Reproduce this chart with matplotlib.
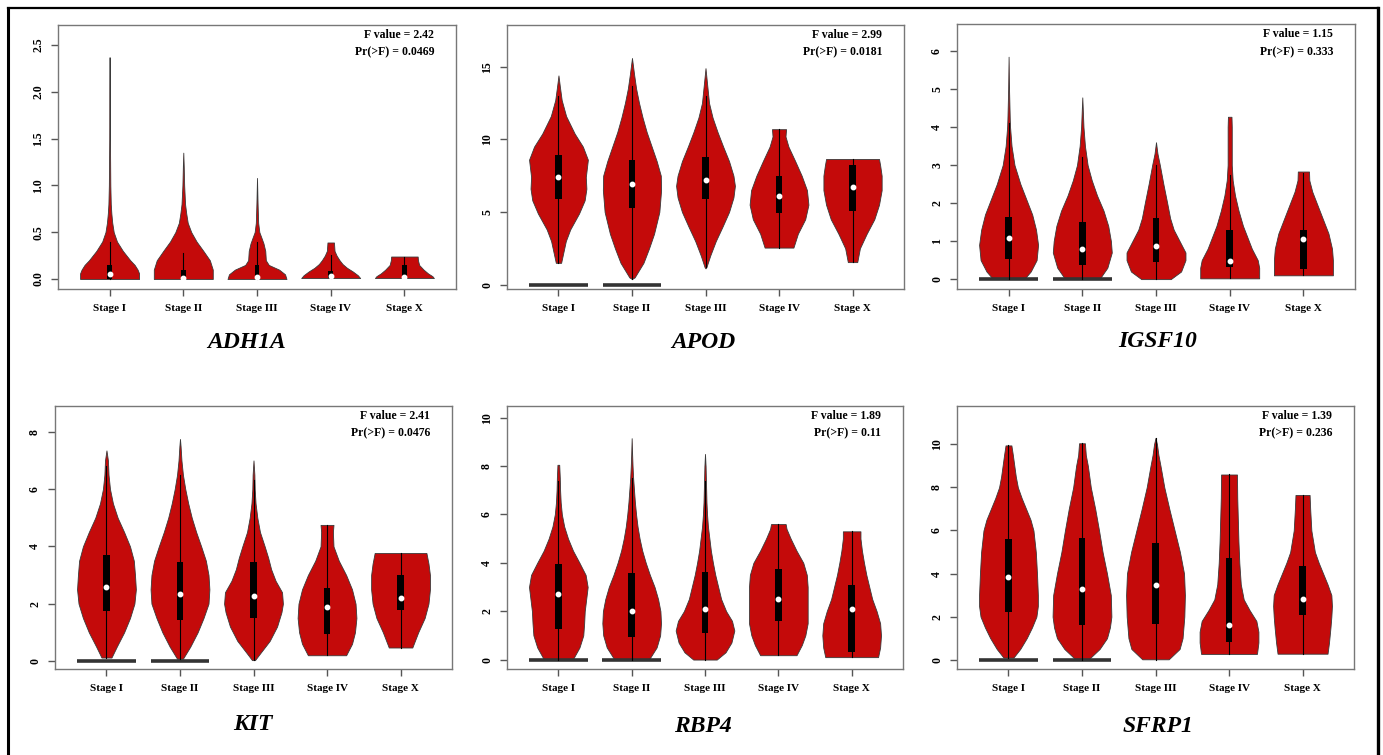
import matplotlib
matplotlib.use("Agg")
import matplotlib.pyplot as plt
from matplotlib.patches import Rectangle

plt.rcParams["font.family"] = ["Liberation Serif", "DejaVu Serif"]
plt.rcParams["font.weight"] = "bold"

stages = ["Stage I", "Stage II", "Stage III", "Stage IV", "Stage X"]
genes = ["ADH1A", "APOD", "IGSF10", "KIT", "RBP4", "SFRP1"]
f_values = ["2.42", "2.99", "1.15", "2.41", "1.89", "1.39"]
p_values = ["0.0469", "0.0181", "0.333", "0.0476", "0.11", "0.236"]

# violin outlines: (expression, relative half width)
ADH1A_profiles = [
    [(0, 1.0), (0.06, 1.0), (0.1, 0.95), (0.15, 0.85), (0.2, 0.7), (0.3, 0.45), (0.4, 0.25),
     (0.5, 0.14), (0.6, 0.09), (0.7, 0.06), (0.8, 0.04), (1.0, 0.025), (1.5, 0.012),
     (2.0, 0.008), (2.37, 0)],
    [(0, 1.0), (0.1, 1.0), (0.2, 0.9), (0.3, 0.68), (0.4, 0.45), (0.5, 0.27), (0.6, 0.15),
     (0.7, 0.1), (0.8, 0.06), (1.0, 0.03), (1.2, 0.015), (1.35, 0)],
    [(0, 1.0), (0.05, 0.95), (0.1, 0.75), (0.15, 0.4), (0.2, 0.3), (0.3, 0.28), (0.38, 0.22),
     (0.45, 0.14), (0.5, 0.08), (0.6, 0.04), (0.8, 0.02), (1.08, 0)],
    [(0.01, 1.0), (0.04, 0.92), (0.08, 0.75), (0.12, 0.55), (0.16, 0.4), (0.2, 0.3),
     (0.25, 0.2), (0.3, 0.13), (0.39, 0.11)],
    [(0.01, 1.0), (0.03, 0.95), (0.06, 0.8), (0.1, 0.65), (0.15, 0.5), (0.2, 0.46), (0.24, 0.45)],
]
APOD_profiles = [
    [(1.5, 0.09), (3.0, 0.25), (3.8, 0.4), (4.9, 0.7), (5.8, 0.89), (6.6, 0.95), (7.4, 0.93),
     (8.6, 1.0), (9.5, 0.83), (10.4, 0.55), (11.6, 0.26), (12.7, 0.11), (13.6, 0.05), (14.4, 0)],
    [(0.39, 0), (0.5, 0.09), (1.5, 0.39), (2.5, 0.58), (3.5, 0.75), (5.0, 0.93), (6.5, 0.99),
     (7.5, 0.98), (8.5, 0.84), (9.5, 0.67), (10.5, 0.5), (11.5, 0.36), (12.5, 0.24),
     (13.5, 0.14), (14.5, 0.07), (15.6, 0)],
    [(1.12, 0), (1.2, 0.03), (2.0, 0.16), (3.0, 0.35), (4.0, 0.58), (5.0, 0.8), (6.0, 0.95),
     (6.8, 1.0), (7.5, 0.95), (8.5, 0.8), (9.5, 0.6), (10.5, 0.41), (11.5, 0.24), (12.5, 0.12),
     (13.5, 0.07), (14.9, 0)],
    [(2.55, 0.49), (3.5, 0.64), (4.5, 0.89), (5.5, 1.0), (6.5, 0.95), (7.5, 0.77), (8.5, 0.55),
     (9.5, 0.32), (10.2, 0.22), (10.7, 0.24)],
    [(1.55, 0.16), (2.5, 0.25), (3.5, 0.48), (4.5, 0.74), (5.5, 0.9), (6.5, 0.99), (7.5, 0.99),
     (8.2, 0.94), (8.65, 0.9)],
]
IGSF10_profiles = [
    [(0.02, 0.55), (0.2, 0.75), (0.5, 0.95), (0.9, 1.0), (1.3, 0.93), (1.7, 0.8), (2.0, 0.65),
     (2.5, 0.4), (3.0, 0.2), (3.5, 0.1), (4.0, 0.05), (4.2, 0.04), (5.0, 0.015), (5.85, 0)],
    [(0.02, 0.6), (0.3, 0.85), (0.7, 1.0), (1.0, 0.97), (1.4, 0.88), (1.8, 0.72), (2.2, 0.5),
     (2.6, 0.32), (3.0, 0.18), (3.5, 0.09), (4.0, 0.04), (4.5, 0.015), (4.78, 0)],
    [(0.0, 0.5), (0.2, 0.85), (0.5, 1.0), (0.7, 1.0), (1.0, 0.8), (1.3, 0.6), (1.6, 0.48),
     (2.0, 0.38), (2.5, 0.25), (3.0, 0.13), (3.3, 0.05), (3.6, 0)],
    [(0.02, 1.0), (0.3, 1.0), (0.5, 0.95), (0.8, 0.75), (1.1, 0.6), (1.4, 0.45), (1.8, 0.3),
     (2.2, 0.18), (2.6, 0.1), (3.0, 0.07), (3.5, 0.07), (4.0, 0.07), (4.27, 0.06)],
    [(0.1, 1.0), (0.5, 1.0), (0.8, 0.97), (1.2, 0.85), (1.6, 0.65), (2.0, 0.45), (2.3, 0.3),
     (2.6, 0.2), (2.83, 0.19)],
]
KIT_profiles = [
    [(0.12, 0.17), (0.5, 0.35), (1.0, 0.6), (1.5, 0.8), (2.0, 0.95), (2.5, 1.0), (3.0, 0.97),
     (3.5, 0.93), (4.0, 0.8), (4.5, 0.6), (5.0, 0.38), (5.5, 0.22), (6.0, 0.12), (6.5, 0.07),
     (7.0, 0.05), (7.35, 0)],
    [(0.08, 0.1), (0.5, 0.35), (1.0, 0.6), (1.5, 0.8), (2.0, 0.97), (2.5, 1.0), (3.0, 0.97),
     (3.5, 0.88), (4.0, 0.72), (4.5, 0.55), (5.0, 0.4), (5.5, 0.28), (6.0, 0.18), (6.5, 0.1),
     (7.0, 0.05), (7.5, 0.02), (7.75, 0)],
    [(0.03, 0.05), (0.3, 0.25), (0.7, 0.55), (1.2, 0.8), (1.7, 0.95), (2.0, 1.0), (2.4, 0.97),
     (2.8, 0.75), (3.2, 0.6), (3.6, 0.5), (4.0, 0.38), (4.5, 0.22), (5.0, 0.13), (5.5, 0.07),
     (6.0, 0.04), (6.5, 0.03), (7.0, 0)],
    [(0.2, 0.65), (0.6, 0.85), (1.0, 0.95), (1.5, 1.0), (2.0, 0.97), (2.5, 0.85), (3.0, 0.65),
     (3.5, 0.4), (4.0, 0.22), (4.5, 0.2), (4.75, 0.22)],
    [(0.47, 0.4), (1.0, 0.6), (1.5, 0.82), (2.0, 0.95), (2.5, 1.0), (3.0, 1.0), (3.4, 0.95),
     (3.77, 0.88)],
]
RBP4_profiles = [
    [(0.02, 0.5), (0.5, 0.72), (1.0, 0.85), (1.5, 0.88), (2.0, 0.9), (2.5, 0.95), (3.0, 1.0),
     (3.5, 0.93), (4.0, 0.72), (4.5, 0.5), (5.0, 0.33), (5.5, 0.2), (6.0, 0.12), (6.5, 0.08),
     (7.0, 0.06), (7.5, 0.05), (8.05, 0.03)],
    [(0.02, 0.6), (0.5, 0.85), (1.0, 0.97), (1.5, 1.0), (2.0, 0.98), (2.5, 0.9), (3.0, 0.78),
     (3.5, 0.62), (4.0, 0.48), (4.5, 0.36), (5.0, 0.27), (5.5, 0.2), (6.0, 0.15), (6.5, 0.11),
     (7.0, 0.08), (7.5, 0.05), (8.0, 0.03), (8.5, 0.015), (9.15, 0)],
    [(0.0, 0.4), (0.3, 0.7), (0.7, 0.9), (1.2, 1.0), (1.6, 0.92), (2.0, 0.72), (2.5, 0.55),
     (3.0, 0.45), (3.5, 0.35), (4.0, 0.27), (4.5, 0.2), (5.0, 0.15), (5.5, 0.1), (6.0, 0.07),
     (6.5, 0.05), (7.0, 0.04), (7.5, 0.03), (8.0, 0.02), (8.5, 0)],
    [(0.18, 0.62), (0.6, 0.8), (1.0, 0.92), (1.5, 1.0), (2.0, 1.0), (2.5, 1.0), (3.0, 1.0),
     (3.5, 0.97), (4.0, 0.85), (4.5, 0.62), (5.0, 0.42), (5.4, 0.28), (5.6, 0.25)],
    [(0.1, 0.9), (0.5, 0.97), (1.0, 1.0), (1.5, 0.97), (2.0, 0.85), (2.5, 0.7), (3.0, 0.6),
     (3.5, 0.5), (4.0, 0.42), (4.5, 0.35), (5.0, 0.3), (5.3, 0.3)],
]
SFRP1_profiles = [
    [(0.1, 0.17), (0.5, 0.4), (1.0, 0.62), (1.5, 0.8), (2.0, 0.95), (2.5, 1.0), (3.0, 1.0),
     (4.0, 0.97), (5.0, 0.93), (6.0, 0.85), (6.5, 0.75), (7.0, 0.6), (7.5, 0.45), (8.0, 0.32),
     (8.5, 0.25), (9.0, 0.2), (9.5, 0.15), (9.95, 0.1)],
    [(0.05, 0.25), (0.5, 0.6), (1.0, 0.85), (1.5, 0.95), (2.0, 1.0), (3.0, 0.98), (4.0, 0.85),
     (5.0, 0.7), (6.0, 0.58), (7.0, 0.45), (8.0, 0.3), (9.0, 0.2), (9.5, 0.13), (10.05, 0.1)],
    [(0.02, 0.45), (0.5, 0.82), (1.0, 0.92), (2.0, 0.98), (3.0, 1.0), (4.0, 0.97), (5.0, 0.83),
     (6.0, 0.65), (7.0, 0.47), (8.0, 0.3), (9.0, 0.17), (9.5, 0.1), (10.0, 0.05), (10.3, 0)],
    [(0.27, 0.95), (0.8, 1.0), (1.3, 1.0), (1.8, 0.93), (2.3, 0.7), (2.8, 0.5), (3.5, 0.4),
     (4.5, 0.35), (5.5, 0.32), (6.5, 0.3), (7.5, 0.28), (8.6, 0.27)],
    [(0.28, 0.85), (0.8, 0.9), (1.5, 0.95), (2.0, 0.98), (2.5, 1.0), (3.0, 0.98), (3.5, 0.85),
     (4.0, 0.7), (4.5, 0.55), (5.0, 0.42), (6.0, 0.3), (7.0, 0.26), (7.65, 0.24)],
]

# box stats per stage: q1, median, q3, whisker low, whisker high
ADH1A_box = [(0.0, 0.05, 0.15, 0.0, 0.40), (0.0, 0.01, 0.10, 0.0, 0.28),
             (0.0, 0.02, 0.15, 0.0, 0.40), (0.01, 0.03, 0.09, 0.01, 0.26),
             (0.01, 0.02, 0.15, 0.01, 0.24)]
APOD_box = [(5.9, 7.4, 8.9, 1.5, 13.0), (5.3, 6.9, 8.6, 0.4, 13.7),
            (5.9, 7.2, 8.77, 1.2, 13.0), (4.9, 6.07, 7.5, 2.55, 10.7),
            (5.1, 6.7, 8.25, 1.55, 8.65)]
IGSF10_box = [(0.54, 1.08, 1.63, 0.0, 4.1), (0.36, 0.8, 1.5, 0.0, 3.2),
              (0.45, 0.86, 1.62, 0.0, 3.0), (0.32, 0.47, 1.28, 0.02, 2.75),
              (0.27, 1.05, 1.28, 0.1, 2.8)]
KIT_box = [(1.73, 2.58, 3.69, 0.12, 6.8), (1.44, 2.33, 3.46, 0.08, 6.5),
           (1.5, 2.27, 3.46, 0.03, 6.3), (0.93, 1.9, 2.55, 0.2, 4.75),
           (1.77, 2.2, 2.99, 0.47, 3.77)]
RBP4_box = [(1.28, 2.73, 3.94, 0.0, 7.4), (0.94, 2.01, 3.56, 0.0, 7.5),
            (1.1, 2.07, 3.6, 0.0, 7.4), (1.6, 2.5, 3.75, 0.18, 5.6),
            (0.32, 2.07, 3.1, 0.1, 5.3)]
SFRP1_box = [(2.21, 3.86, 5.6, 0.1, 9.95), (1.62, 3.28, 5.66, 0.0, 10.05),
             (1.65, 3.48, 5.41, 0.0, 10.3), (0.82, 1.59, 4.71, 0.27, 8.6),
             (2.07, 2.8, 4.37, 0.28, 7.65)]

# stages with a cluster of zero values drawn as a bar on the baseline
zero_bars = {"ADH1A": [], "APOD": [0, 1], "IGSF10": [0, 1], "KIT": [0, 1],
             "RBP4": [0, 1], "SFRP1": [0, 1]}

y_limits = [(-0.107, 2.714), (-0.3, 17.87), (-0.26, 6.71),
            (-0.28, 8.9), (-0.39, 10.48), (-0.43, 11.78)]
y_ticks = [[0, 0.5, 1.0, 1.5, 2.0, 2.5], [0, 5, 10, 15], [0, 1, 2, 3, 4, 5, 6],
           [0, 2, 4, 6, 8], [0, 2, 4, 6, 8, 10], [0, 2, 4, 6, 8, 10]]
y_tick_labels = [["0.0", "0.5", "1.0", "1.5", "2.0", "2.5"]] + [
    [str(t) for t in ticks] for ticks in y_ticks[1:]]

# axes boxes in pixels (left, top, right, bottom)
W, H = 1383, 755
boxes = [(58, 25, 456, 289), (507, 25, 904, 289), (957, 24, 1355, 289),
         (55, 406, 452, 669), (507, 406, 903, 669), (957, 406, 1354, 669)]
title_pos = [(247, 343), (703, 343), (1158, 342), (253, 725), (703, 726), (1158, 726)]

RED = "#C40A0A"
EDGE = "#3a3a3a"


def draw_panel(ax, gene, profiles, box_stats, idx):
    box_w = 0.06 if gene == "ADH1A" else 0.09
    for i, (prof, stats) in enumerate(zip(profiles, box_stats)):
        x = i + 1
        ys = [p[0] for p in prof]
        ws = [0.4 * p[1] for p in prof]
        ax.fill_betweenx(ys, [x - w for w in ws], [x + w for w in ws],
                         facecolor=RED, edgecolor=EDGE, linewidth=0.6, zorder=2)
        if i in zero_bars[gene]:
            ax.plot([x - 0.4, x + 0.4], [0, 0], color="#333333", lw=2.6,
                    solid_capstyle="butt", zorder=3)
        q1, med, q3, lo, hi = stats
        ax.plot([x, x], [lo, hi], color="black", lw=0.8, zorder=3)
        ax.add_patch(Rectangle((x - box_w / 2, q1), box_w, q3 - q1,
                               facecolor="black", edgecolor="none", zorder=4))
        ax.plot(x, med, "o", ms=3.2, color="white", mec="white", zorder=5)

    ax.set_xlim(0.3, 5.7)
    ax.set_ylim(*y_limits[idx])
    ax.set_xticks(range(1, 6))
    ax.set_xticklabels(stages, fontsize=8, fontweight="bold")
    ax.set_yticks(y_ticks[idx])
    ax.set_yticklabels(y_tick_labels[idx], fontsize=8.5, fontweight="bold",
                       rotation=90, va="center")
    ax.tick_params(axis="x", length=5, width=1, color="#555555", pad=6)
    ax.tick_params(axis="y", length=5, width=1, color="#555555", pad=5)
    for sp in ax.spines.values():
        sp.set_color("#777777")
        sp.set_linewidth(1.0)
    ax.text(0.945, 0.962, f"F value = {f_values[idx]}", transform=ax.transAxes,
            ha="right", va="center", fontsize=8.5, fontweight="bold")
    ax.text(0.945, 0.895, f"Pr(>F) = {p_values[idx]}", transform=ax.transAxes,
            ha="right", va="center", fontsize=8.5, fontweight="bold")


def main() -> None:
    fig = plt.figure(figsize=(W / 100, H / 100), dpi=100)
    fig.patch.set_facecolor("white")

    all_profiles = [ADH1A_profiles, APOD_profiles, IGSF10_profiles,
                    KIT_profiles, RBP4_profiles, SFRP1_profiles]
    all_boxes = [ADH1A_box, APOD_box, IGSF10_box, KIT_box, RBP4_box, SFRP1_box]

    for idx, gene in enumerate(genes):
        l, t, r, b = boxes[idx]
        ax = fig.add_axes([l / W, 1 - b / H, (r - l) / W, (b - t) / H])
        draw_panel(ax, gene, all_profiles[idx], all_boxes[idx], idx)
        tx, ty = title_pos[idx]
        fig.text(tx / W, 1 - ty / H, gene, ha="center", va="center",
                 fontsize=17, fontweight="bold", style="italic")

    # outer frame, open at the bottom edge
    fig.add_artist(plt.Line2D([8 / W, 8 / W], [0, 1 - 7.5 / H],
                              color="black", lw=2.2))
    fig.add_artist(plt.Line2D([8 / W, 1378 / W], [1 - 7.5 / H, 1 - 7.5 / H],
                              color="black", lw=1.6))
    fig.add_artist(plt.Line2D([1378 / W, 1378 / W], [0, 1 - 7.5 / H],
                              color="black", lw=2.4))

    fig.savefig("out.png", dpi=100)


if __name__ == "__main__":
    main()
